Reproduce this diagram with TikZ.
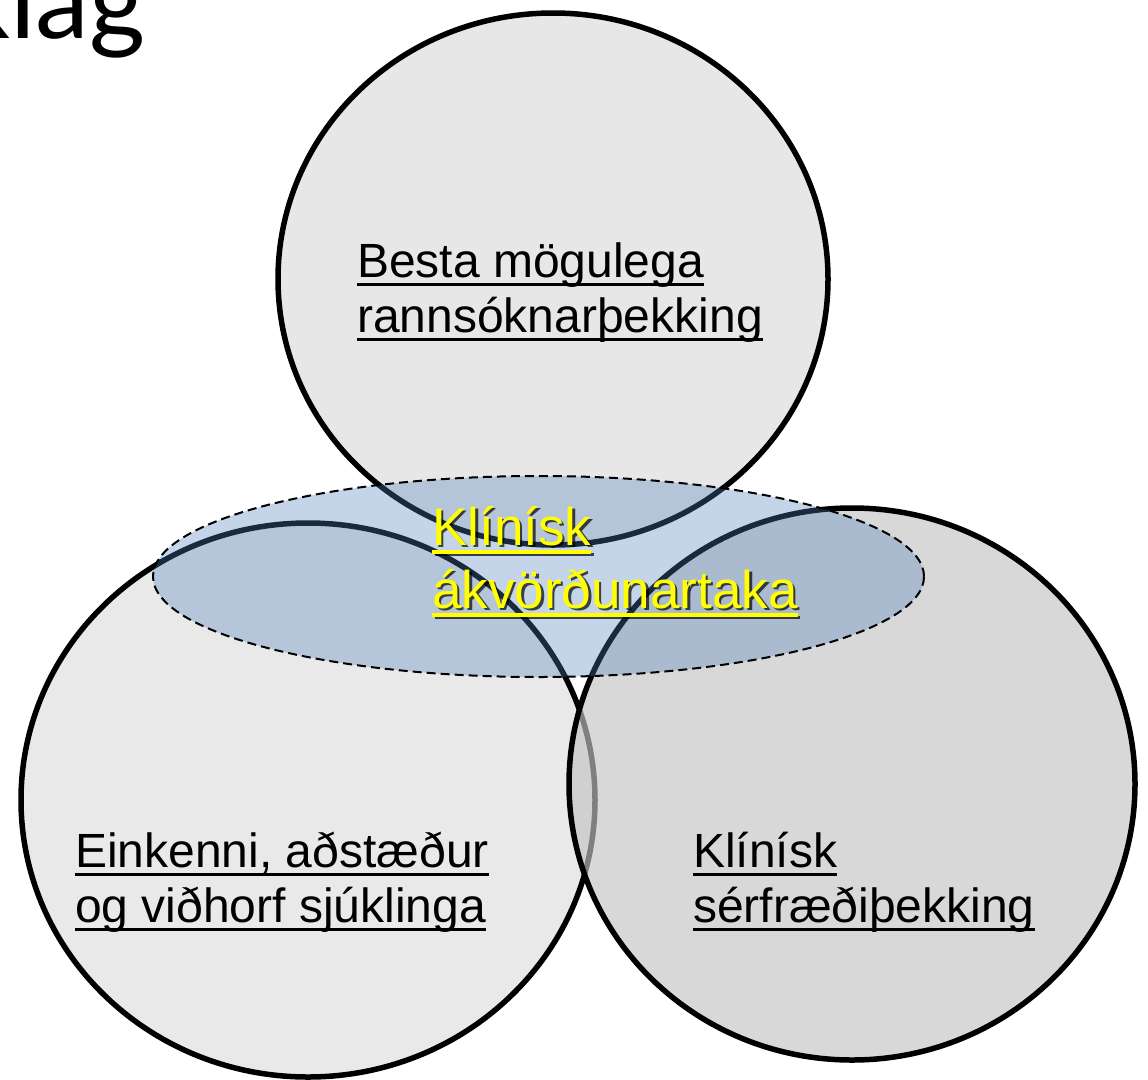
\documentclass[tikz,border=0pt]{standalone}
\usepackage{fontspec}
\setmainfont{Liberation Sans}
\newfontfamily\titlefont{Lato}
\definecolor{topfill}{RGB}{231,231,231}
\definecolor{leftfill}{RGB}{233,233,233}
\definecolor{rightfill}{RGB}{196,196,196}
\definecolor{blueish}{RGB}{79,129,189}
\definecolor{hiyellow}{RGB}{255,255,0}
\begin{document}
\begin{tikzpicture}[x=1pt,y=-1pt,
  circ/.style={draw=black,line width=5.5pt},
  lbl/.style={inner sep=0pt,anchor=base west,font=\fontsize{48}{55}\selectfont},
  ylbl/.style={inner sep=0pt,anchor=base west,font=\fontsize{53}{61}\selectfont,text=hiyellow},
  slbl/.style={inner sep=0pt,anchor=base west,font=\fontsize{53}{61}\selectfont,text=black,text opacity=0.7},
  ul/.style={line width=3pt},
  yul/.style={line width=3.5pt,draw=hiyellow},
  sul/.style={line width=3.5pt,draw=black,draw opacity=0.7}]
\useasboundingbox (0,0) rectangle (1148,1079);
\fill[white] (0,0) rectangle (1148,1079);
% title fragment
\begin{scope}
\clip (0,0) rectangle (1148,1079);
\node[inner sep=0pt,anchor=base east,font=\titlefont\fontsize{108}{108}\selectfont] (title) at (146,38) {klag};
\end{scope}
% circles
\draw[circ,fill=topfill] (553,279) ellipse (275pt and 266pt);
\draw[circ,fill=leftfill] (308,800) ellipse (287pt and 277pt);
\path[fill=rightfill,fill opacity=0.65] (852,784) ellipse (283pt and 276pt);
\draw[circ] (852,784) ellipse (283pt and 276pt);
% central dashed ellipse
\draw[draw=black,line width=2pt,dash pattern=on 9pt off 5pt,fill=blueish,fill opacity=0.33] (538.5,576.5) ellipse (385.5pt and 100.5pt);
% labels
\node[lbl] (t1) at (357,277) {Besta mögulega};
\node[lbl] (t2) at (357,332) {rannsóknarþekking};
\draw[ul] ([yshift=-7pt]t1.base west) -- ([yshift=-7pt]t1.base east);
\draw[ul] ([yshift=-7pt]t2.base west) -- ([yshift=-7pt]t2.base east);
\node[lbl] (l1) at (75,867) {Einkenni, aðstæður};
\node[lbl] (l2) at (75,922) {og viðhorf sjúklinga};
\draw[ul] ([yshift=-7pt]l1.base west) -- ([yshift=-7pt]l1.base east);
\draw[ul] ([yshift=-7pt]l2.base west) -- ([yshift=-7pt]l2.base east);
\node[lbl] (r1) at (693,867) {Klínísk};
\node[lbl] (r2) at (693,922) {sérfræðiþekking};
\draw[ul] ([yshift=-7pt]r1.base west) -- ([yshift=-7pt]r1.base east);
\draw[ul] ([yshift=-7pt]r2.base west) -- ([yshift=-7pt]r2.base east);
% yellow centre label with shadow
\node[slbl] (cs1) at (434.5,547.5) {Klínísk};
\node[slbl] (cs2) at (434.5,610.5) {ákvörðunartaka};
\draw[sul] ([yshift=-7pt]cs1.base west) -- ([yshift=-7pt]cs1.base east);
\draw[sul] ([yshift=-7pt]cs2.base west) -- ([yshift=-7pt]cs2.base east);
\node[ylbl] (c1) at (432,545) {Klínísk};
\node[ylbl] (c2) at (432,608) {ákvörðunartaka};
\draw[yul] ([yshift=-7pt]c1.base west) -- ([yshift=-7pt]c1.base east);
\draw[yul] ([yshift=-7pt]c2.base west) -- ([yshift=-7pt]c2.base east);
\end{tikzpicture}
\end{document}
